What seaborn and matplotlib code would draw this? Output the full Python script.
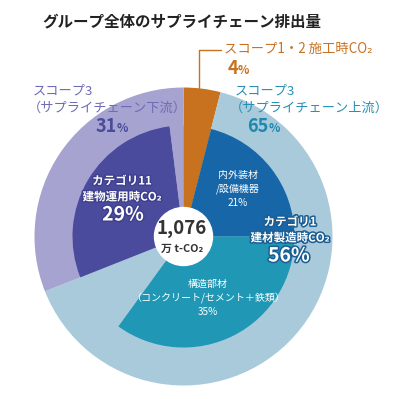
import matplotlib
matplotlib.use("Agg")
import matplotlib.pyplot as plt
import matplotlib.patheffects as pe
from matplotlib.lines import Line2D
import seaborn as sns

# ---------------- data ----------------
title = "グループ全体のサプライチェーン排出量"
outer_labels = ["スコープ1・2 施工時CO₂", "スコープ3\n（サプライチェーン上流）", "スコープ3\n（サプライチェーン下流）"]
outer_values = [4, 65, 31]
inner_labels = ["スコープ1・2", "内外装材\n/設備機器", "構造部材\n（コンクリート/セメント＋鉄類）",
                "その他上流", "カテゴリ11\n建物運用時CO₂", "その他下流"]
inner_values = [4, 21, 35, 9, 29, 2]
cat1_label = "カテゴリ1\n建材製造時CO₂"
cat1_value = 56
total_value = "1,076"
total_unit = "万 t-CO₂"

outer_colors = ["#C8711F", "#A8CADB", "#A6A3D0"]
inner_colors = ["#C8711F", "#1767A8", "#1F97B5", "#A8CADB", "#4A4B9C", "#A6A3D0"]

sns.set_theme(style="white")
plt.rcParams["font.family"] = ["Noto Sans CJK JP", "DejaVu Sans"]

W, H = 396, 399
fig = plt.figure(figsize=(W / 100, H / 100), dpi=100)
fig.patch.set_facecolor("white")

cx, cy, R = 183.5, 236.5, 149.0
ax = fig.add_axes([(cx - R) / W, (H - cy - R) / H, 2 * R / W, 2 * R / H])
ax.axis("off")

ax.pie(outer_values, colors=outer_colors, radius=1.0, startangle=90, counterclock=False,
       wedgeprops=dict(linewidth=0))
ax.pie(inner_values, colors=inner_colors, radius=111 / R, startangle=90, counterclock=False,
       wedgeprops=dict(linewidth=0))
ax.add_patch(plt.Circle((0, 0), 29 / R, color="white", zorder=5))
ax.set_xlim(-1, 1)
ax.set_ylim(-1, 1)


def T(x, y, s, **kw):
    return fig.text(x / W, 1 - y / H, s, **kw)


# title
T(42, 21, title, fontsize=11.2, fontweight="bold", color="#222222", ha="left", va="center")

# scope 1-2 label with leader line
orange = "#C8711F"
fig.add_artist(Line2D([199 / W, 199 / W, 221 / W], [1 - 88 / H, 1 - 50 / H, 1 - 50 / H],
                      transform=fig.transFigure, color=orange, lw=1.0))
T(224, 49, outer_labels[0], fontsize=9.6, color=orange, ha="left", va="center")
T(238, 69, f"{outer_values[0]}", fontsize=13, fontweight="bold", color=orange, ha="right", va="center")
T(238, 71, "%", fontsize=8.5, fontweight="bold", color=orange, ha="left", va="center")

# scope 3 upstream
teal = "#2790B4"
up1, up2 = outer_labels[1].split("\n")
T(235, 91, up1, fontsize=9.5, color=teal, ha="left", va="center")
T(230, 108, up2, fontsize=9.5, color=teal, ha="left", va="center")
T(269, 127, f"{outer_values[1]}", fontsize=13, fontweight="bold", color="#1E88AE", ha="right", va="center")
T(269, 129, "%", fontsize=8.5, fontweight="bold", color="#1E88AE", ha="left", va="center")

# scope 3 downstream
lav = "#6C6CB6"
dn1, dn2 = outer_labels[2].split("\n")
T(33, 91, dn1, fontsize=9.5, color=lav, ha="left", va="center")
T(28, 108, dn2, fontsize=9.5, color=lav, ha="left", va="center")
T(117, 127, f"{outer_values[2]}", fontsize=13, fontweight="bold", color="#4A4B9C", ha="right", va="center")
T(117, 129, "%", fontsize=8.5, fontweight="bold", color="#4A4B9C", ha="left", va="center")

# inner labels
T(238, 189, f"{inner_labels[1]}\n{inner_values[1]}%", fontsize=7.2, color="white",
  ha="center", va="center", linespacing=1.45)
T(208, 298, f"{inner_labels[2]}\n{inner_values[2]}%", fontsize=7.2, color="white",
  ha="center", va="center", linespacing=1.45)

stroke_b = [pe.withStroke(linewidth=2.2, foreground="#1B5E93")]
T(290, 230, cat1_label, fontsize=8.3, fontweight="bold", color="white", ha="center",
  va="center", linespacing=1.3, path_effects=stroke_b)
T(289, 256, f"{cat1_value}%", fontsize=14, fontweight="bold", color="white", ha="center",
  va="center", path_effects=stroke_b)

stroke_i = [pe.withStroke(linewidth=2.0, foreground="#3E3F8C")]
T(122, 189, inner_labels[4], fontsize=8.3, fontweight="bold", color="white", ha="center",
  va="center", linespacing=1.3, path_effects=stroke_i)
T(123, 215, f"{inner_values[4]}%", fontsize=14, fontweight="bold", color="white", ha="center",
  va="center", path_effects=stroke_i)

# center total
T(182, 229, total_value, fontsize=13.5, fontweight="bold", color="#333333", ha="center", va="center", zorder=10)
T(182, 249, total_unit, fontsize=7.8, fontweight="bold", color="#333333", ha="center", va="center", zorder=10)

fig.savefig("out.png", dpi=100, facecolor="white")
